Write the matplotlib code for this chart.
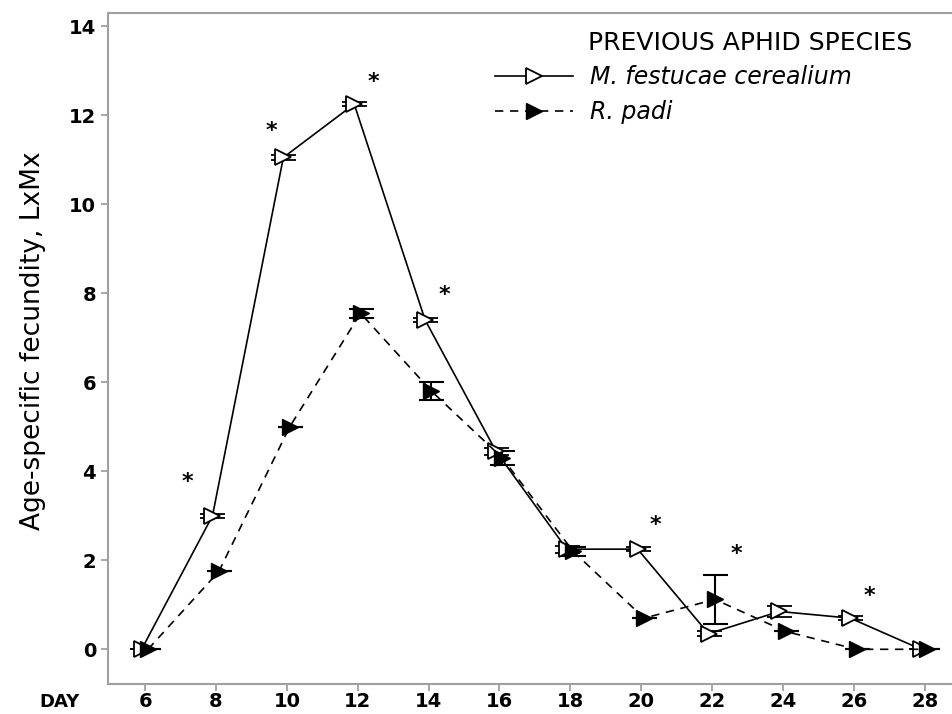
import matplotlib.pyplot as plt
from matplotlib.lines import Line2D

days = [6, 8, 10, 12, 14, 16, 18, 20, 22, 24, 26, 28]
mfc = [0, 3.0, 11.05, 12.25, 7.4, 4.45, 2.25, 2.25, 0.35, 0.85, 0.7, 0]
mfc_err = [0, 0.05, 0.05, 0.05, 0.05, 0.08, 0.08, 0.05, 0.05, 0.12, 0.05, 0]
rp = [0, 1.75, 5.0, 7.55, 5.8, 4.3, 2.2, 0.7, 1.12, 0.4, 0, 0]
rp_err = [0, 0, 0, 0.1, 0.2, 0.15, 0.1, 0, 0.55, 0, 0, 0]

# significance stars (x, y)
star_x = [7.2, 9.55, 12.45, 14.45, 20.4, 22.7, 26.45]
star_y = [3.75, 11.65, 12.75, 7.95, 2.8, 2.15, 1.2]

fig = plt.figure(figsize=(9.53, 7.14), dpi=100)
ax = fig.add_axes([0.1133, 0.042, 0.8867, 0.94])

x1 = [d - 0.1 for d in days]
x2 = [d + 0.08 for d in days]

ax.errorbar(x1, mfc, yerr=mfc_err, color='black', lw=1.2, ls='-',
            marker='>', ms=11, mfc='white', mec='black', mew=1.3,
            capsize=9, capthick=1.5, elinewidth=1.5, zorder=3)
ax.errorbar(x2, rp, yerr=rp_err, color='black', lw=1.2, ls=(0, (5, 4)),
            marker='>', ms=11, mfc='black', mec='black',
            capsize=9, capthick=1.5, elinewidth=1.5, zorder=3)

for sx, sy in zip(star_x, star_y):
    ax.text(sx, sy, '*', ha='center', va='center', fontsize=16, fontweight='bold')

ax.set_xlim(4.95, 28.8)
ax.set_ylim(-0.78, 14.3)
ax.set_xticks(days)
ax.set_yticks(range(0, 15, 2))

ax.spines['right'].set_visible(False)
for s in ['left', 'bottom', 'top']:
    ax.spines[s].set_color('#a0a0a0')
    ax.spines[s].set_linewidth(1.5)
ax.tick_params(colors='#a0a0a0', labelcolor='black', length=5, width=1.3, labelsize=14)
ax.tick_params(axis='x', pad=1)
for lab in ax.get_xticklabels() + ax.get_yticklabels():
    lab.set_fontweight('bold')

ax.set_ylabel('Age-specific fecundity, LxMx', fontsize=19)
ax.yaxis.set_label_coords(-0.073, 0.512)
ax.text(-0.057, -0.027, 'DAY', transform=ax.transAxes, ha='center', va='center',
        fontweight='bold', fontsize=13)

handles = [
    Line2D([], [], color='black', lw=1.2, ls='-', marker='>', ms=11,
           mfc='white', mec='black', mew=1.3),
    Line2D([], [], color='black', lw=1.2, ls=(0, (5, 4)), marker='>', ms=11,
           mfc='black', mec='black'),
]
leg = ax.legend(handles, ['M. festucae cerealium', 'R. padi'],
                loc='upper left', bbox_to_anchor=(0.447, 0.936), frameon=False,
                handlelength=3.3, handletextpad=0.7, labelspacing=0.45,
                borderaxespad=0, prop={'style': 'italic', 'size': 17})
ax.text(0.568, 0.973, 'PREVIOUS APHID SPECIES', transform=ax.transAxes,
        ha='left', va='top', fontsize=18)

fig.savefig('out.png', dpi=100)
